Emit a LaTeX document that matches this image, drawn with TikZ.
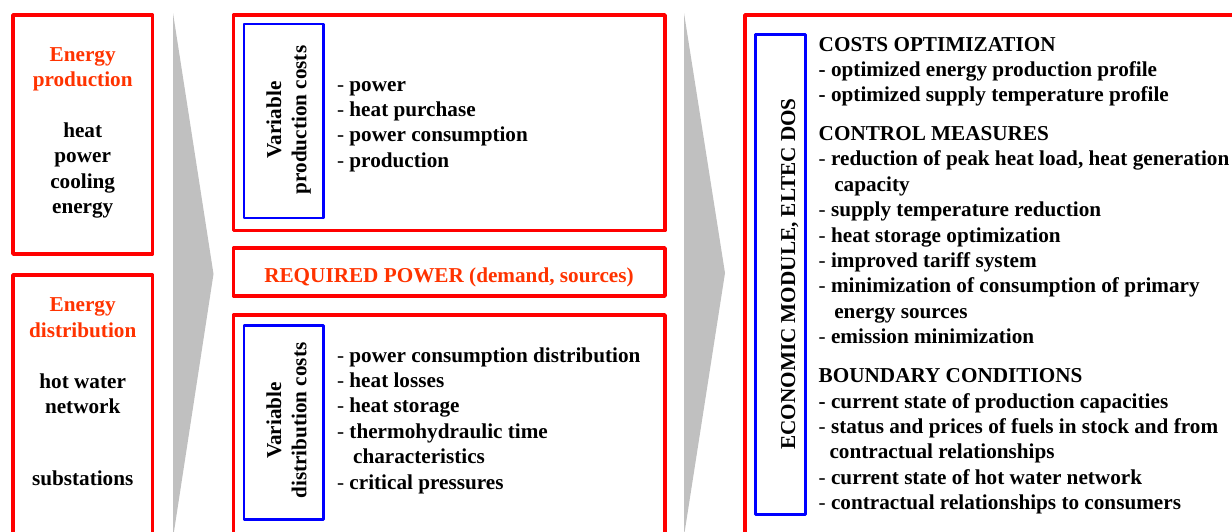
\documentclass[tikz,border=0pt]{standalone}
\usepackage{fontspec}
\setmainfont{Liberation Serif}

\definecolor{boxred}{RGB}{255,0,0}
\definecolor{boxblue}{RGB}{0,0,255}
\definecolor{titleorange}{RGB}{255,51,0}
\definecolor{flowgrey}{RGB}{192,192,192}

% list dashes: thin and bold
\newcommand{\itm}{{\mdseries -}\ }
\newcommand{\bitm}{-\ }

\begin{document}
\begin{tikzpicture}[x=0.5pt,y=-0.5pt,line join=round,
    redbox/.style={draw=boxred,line width=1.8pt},
    bluebox/.style={draw=boxblue,line width=1.35pt},
    flow/.style={fill=flowgrey},
    txt/.style={inner sep=0pt,font=\fontsize{10.6pt}{12.7pt}\selectfont\bfseries},
    hot/.style={txt,text=titleorange}]
      \useasboundingbox (0,0) rectangle (1232,531);
      \clip (0,0) rectangle (1232,531);

      % Grey flow arrows
      \fill[flow] (173,13) -- (213.5,274) -- (173,538) -- cycle;
      \fill[flow] (684,13) -- (725,273) -- (684,536) -- cycle;

      % Left column
      \draw[redbox] (13,15) rectangle (152.5,254);
      \draw[redbox] (13,275) rectangle (152.5,560);

      \node[hot,anchor=base] (prod) at (82.7,61)
        {\begin{tabular}[t]{@{}c@{}}Energy\\production\end{tabular}};
      \node[txt,anchor=base] (prodkind) at (82.7,137.2)
        {\begin{tabular}[t]{@{}c@{}}heat\\power\\cooling\\energy\end{tabular}};
      \node[hot,anchor=base] (dist) at (82.7,311.7)
        {\begin{tabular}[t]{@{}c@{}}Energy\\distribution\end{tabular}};
      \node[txt,anchor=base] (net) at (82.7,388)
        {\begin{tabular}[t]{@{}c@{}}hot water\\network\end{tabular}};
      \node[txt,anchor=base] (subst) at (82.7,485) {substations};

      % Middle column: production costs
      \draw[redbox] (233.5,15) rectangle (665,230.5);
      \draw[bluebox] (244,24) rectangle (323.6,218);
      \node[txt,anchor=base,rotate=90] (vprod) at (281,120)
        {\begin{tabular}[t]{@{}c@{}}Variable\\production costs\end{tabular}};
      \node[txt,anchor=base west] (prodcost) at (336.7,91)
        {\begin{tabular}[t]{@{}l@{}}
          \itm power\\
          \itm heat purchase\\
          \itm power consumption\\
          \itm production
        \end{tabular}};

      % Middle column: required power
      \draw[redbox] (233.5,248) rectangle (665,296);
      \node[hot,anchor=base] (req) at (449,282.7) {REQUIRED POWER (demand, sources)};

      % Middle column: distribution costs
      \draw[redbox] (233.5,315) rectangle (665,560);
      \draw[bluebox] (244,325.7) rectangle (323.6,519.3);
      \node[txt,anchor=base,rotate=90] (vdist) at (281,420.5)
        {\begin{tabular}[t]{@{}c@{}}Variable\\distribution costs\end{tabular}};
      \node[txt,anchor=base west] (distcost) at (336.7,362)
        {\begin{tabular}[t]{@{}l@{}}
          \itm power consumption distribution\\
          \itm heat losses\\
          \itm heat storage\\
          \itm thermohydraulic time\\
          \hspace*{8pt}characteristics\\
          \itm critical pressures
        \end{tabular}};

      % Right column: economic module
      \draw[redbox] (745,15) rectangle (1260,560);
      \draw[bluebox] (755.3,34.7) rectangle (805.3,514.3);
      \node[txt,anchor=base,rotate=90] (eco) at (795,274) {ECONOMIC MODULE, ELTEC DOS};

      \node[txt,anchor=base west] (costs) at (818.3,51)
        {\begin{tabular}[t]{@{}l@{}}
          COSTS OPTIMIZATION\\
          \bitm optimized energy production profile\\
          \bitm optimized supply temperature profile
        \end{tabular}};
      \node[txt,anchor=base west] (measures) at (818.3,140.5)
        {\begin{tabular}[t]{@{}l@{}}
          CONTROL MEASURES\\
          \itm reduction of peak heat load, heat generation\\
          \hspace*{7.8pt}capacity\\
          \itm supply temperature reduction\\
          \itm heat storage optimization\\
          \itm improved tariff system\\
          \itm minimization of consumption of primary\\
          \hspace*{7.8pt}energy sources\\
          \itm emission minimization
        \end{tabular}};
      \node[txt,anchor=base west] (bounds) at (818.3,382.7)
        {\begin{tabular}[t]{@{}l@{}}
          BOUNDARY CONDITIONS\\
          \bitm current state of production capacities\\
          \itm status and prices of fuels in stock and from\\
          \hspace*{5.4pt}contractual relationships\\
          \itm current state of hot water network\\
          \itm contractual relationships to consumers
        \end{tabular}};
    \end{tikzpicture}
\end{document}
